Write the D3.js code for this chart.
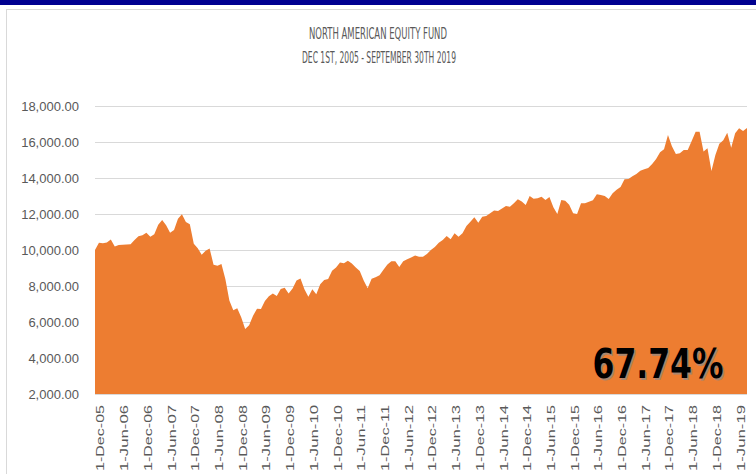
<!DOCTYPE html>
<html>
<head>
<meta charset="utf-8">
<script src="https://cdn.jsdelivr.net/npm/d3@7"></script>
<style>
  html, body { margin: 0; padding: 0; background: #fff; }
  svg { display: block; }
</style>
</head>
<body>
<svg id="chart" width="756" height="474"></svg>
<script>
// ---- DATA ----
const titleLines = ["NORTH AMERICAN EQUITY FUND", "DEC 1ST, 2005 - SEPTEMBER 30TH 2019"];
const totalReturn = "67.74%";
// monthly values, 1-Dec-05 ... 1-Sep-19
const values = [
  10000, 10400, 10380, 10420, 10590, 10190, 10280, 10290, 10300, 10315,
  10550, 10760, 10815, 10960, 10740, 10880, 11400, 11667, 11380, 10960,
  11110, 11740, 11980, 11560, 11430, 10350, 10100, 9730, 9960, 10090,
  9180, 9130, 9220, 8380, 7200, 6650, 6760, 6260, 5611, 5820,
  6350, 6740, 6720, 7167, 7430, 7590, 7440, 7830, 7900, 7590,
  7860, 8300, 8420, 7820, 7407, 7815, 7540, 8093, 8333, 8389,
  8850, 9030, 9300, 9260, 9407, 9250, 9030, 8830, 8300, 7870,
  8400, 8480, 8600, 8900, 9200, 9370, 9380, 9050, 9380, 9480,
  9590, 9700, 9630, 9630, 9780, 10000, 10170, 10407, 10556, 10778,
  10593, 10926, 10741, 10926, 11333, 11574, 11815, 11519, 11852, 11889,
  12037, 12200, 12170, 12300, 12444, 12400, 12600, 12815, 12700, 12500,
  13000, 12852, 12870, 12963, 12780, 12950, 12370, 12000, 12778, 12741,
  12520, 12037, 12000, 12593, 12593, 12685, 12760, 13093, 13060, 13000,
  12833, 13150, 13350, 13500, 13926, 13944, 14100, 14220, 14400, 14490,
  14550, 14780, 15050, 15430, 15600, 16389, 15760, 15333, 15370, 15556,
  15556, 16050, 16574, 16574, 15470, 15650, 14389, 15278, 15900, 16100,
  16519, 15685, 16481, 16759, 16611, 16774
];
// category labels shown every 6 months (index of month in values)
const tickLabels = [
  "1-Dec-05","1-Jun-06","1-Dec-06","1-Jun-07","1-Dec-07","1-Jun-08","1-Dec-08",
  "1-Jun-09","1-Dec-09","1-Jun-10","1-Dec-10","1-Jun-11","1-Dec-11","1-Jun-12",
  "1-Dec-12","1-Jun-13","1-Dec-13","1-Jun-14","1-Dec-14","1-Jun-15","1-Dec-15",
  "1-Jun-16","1-Dec-16","1-Jun-17","1-Dec-17","1-Jun-18","1-Dec-18","1-Jun-19"
];
const tickStep = 6;
const yTicks = [2000, 4000, 6000, 8000, 10000, 12000, 14000, 16000, 18000];

// ---- LAYOUT ----
const svg = d3.select("#chart");
const plot = { left: 95, right: 747, top: 106, bottom: 394 };
const grey = "#595959";

// top navy bar and frame
svg.append("rect").attr("x", 0).attr("y", 0).attr("width", 756).attr("height", 5).attr("fill", "#000090");
svg.append("rect").attr("x", 6.5).attr("y", 9.5).attr("width", 780).attr("height", 500)
  .attr("fill", "#fff").attr("stroke", "#d9d9d9").attr("stroke-width", 1);

// titles
const titleFont = "'Liberation Sans Narrow','DejaVu Sans Condensed',sans-serif";
svg.append("text").attr("x", 378).attr("y", 39).attr("text-anchor", "middle")
  .attr("font-family", titleFont).attr("font-size", 15).attr("fill", grey)
  .attr("textLength", 138).attr("lengthAdjust", "spacingAndGlyphs")
  .text(titleLines[0]);
svg.append("text").attr("x", 379).attr("y", 63).attr("text-anchor", "middle")
  .attr("font-family", titleFont).attr("font-size", 15).attr("fill", grey)
  .attr("textLength", 154).attr("lengthAdjust", "spacingAndGlyphs")
  .text(titleLines[1]);

// scales
const x = d3.scaleLinear().domain([0, values.length - 1]).range([plot.left, plot.right]);
const y = d3.scaleLinear().domain([2000, 18000]).range([plot.bottom, plot.top]);

// gridlines + y axis
const yAxis = d3.axisLeft(y).tickValues(yTicks).tickFormat(d3.format(",.2f"))
  .tickSize(-(plot.right - plot.left)).tickPadding(16);
const gy = svg.append("g").attr("transform", `translate(${plot.left},0)`).call(yAxis);
gy.select(".domain").remove();
gy.selectAll(".tick line").attr("stroke", "#d9d9d9").attr("stroke-width", 1);
gy.selectAll(".tick text").attr("fill", grey)
  .attr("font-family", "'Liberation Sans',Arial,sans-serif").attr("font-size", 13);

// area
const area = d3.area().x((d, i) => x(i)).y0(y(2000)).y1(d => y(d));
svg.append("path").datum(values).attr("d", area).attr("fill", "#ED7D31");

// bottom axis line
svg.append("line").attr("x1", plot.left).attr("x2", plot.right)
  .attr("y1", y(2000) + 0.5).attr("y2", y(2000) + 0.5)
  .attr("stroke", "#d9d9d9").attr("stroke-width", 1);

// x axis labels (rotated, reading bottom-to-top)
const xAxis = d3.axisBottom(x)
  .tickValues(tickLabels.map((d, i) => i * tickStep))
  .tickFormat((d, i) => tickLabels[i]).tickSize(0);
const gx = svg.append("g").attr("transform", `translate(5,${plot.bottom})`).call(xAxis);
gx.select(".domain").remove();
gx.selectAll(".tick text")
  .attr("transform", "rotate(-90)")
  .attr("text-anchor", "start")
  .attr("x", -77).attr("y", 0).attr("dy", "0.36em")
  .attr("fill", grey)
  .attr("font-family", "'Liberation Sans',Arial,sans-serif").attr("font-size", 11)
  .attr("textLength", 66).attr("lengthAdjust", "spacingAndGlyphs");

// total return label with shadow
const bx = 658, by = 378;
svg.append("text").attr("x", bx + 1.5).attr("y", by + 1.5).attr("text-anchor", "middle")
  .attr("font-family", titleFont)
  .attr("font-weight", "bold").attr("font-size", 40).attr("fill", "#8a8a8a").attr("opacity", 0.7)
  .attr("textLength", 131).attr("lengthAdjust", "spacingAndGlyphs")
  .text(totalReturn);
svg.append("text").attr("x", bx).attr("y", by).attr("text-anchor", "middle")
  .attr("font-family", titleFont)
  .attr("font-weight", "bold").attr("font-size", 40).attr("fill", "#000")
  .attr("textLength", 131).attr("lengthAdjust", "spacingAndGlyphs")
  .text(totalReturn);
</script>
</body>
</html>
